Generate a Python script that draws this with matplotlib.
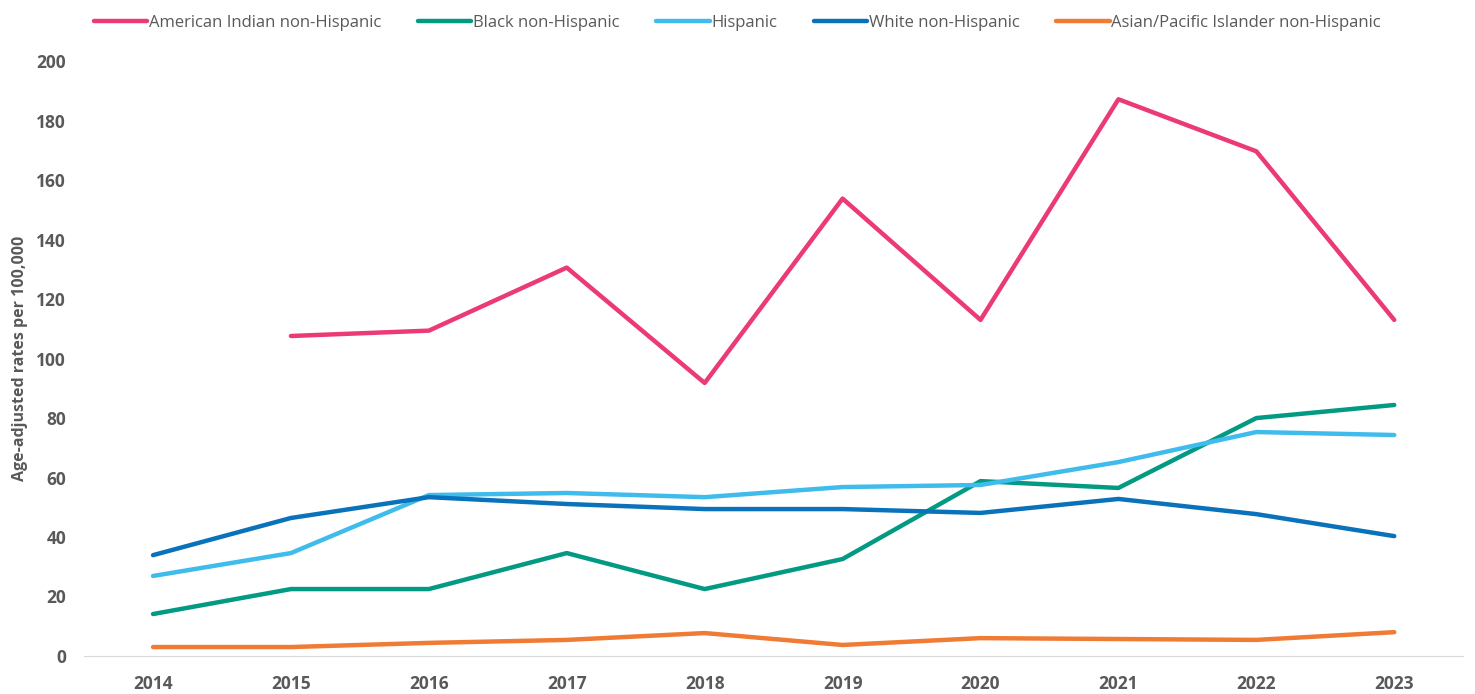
import numpy as np
import matplotlib
matplotlib.use("Agg")
import matplotlib.pyplot as plt

years = ['2014', '2015', '2016', '2017', '2018', '2019', '2020', '2021', '2022', '2023']

american_indian = [np.nan, 107.6, 109.4, 130.6, 91.8, 153.8, 113.0, 187.2, 169.7, 113.0]
black = [14.1, 22.5, 22.5, 34.6, 22.5, 32.6, 58.8, 56.5, 80.0, 84.4]
hispanic = [26.9, 34.6, 54.1, 54.8, 53.4, 56.8, 57.5, 65.2, 75.3, 74.3]
white = [33.9, 46.4, 53.4, 51.1, 49.4, 49.4, 48.1, 52.8, 47.7, 40.3]
asian_pi = [3.0, 3.0, 4.4, 5.4, 7.7, 3.7, 6.0, 5.7, 5.4, 8.0]

series = [
    ('American Indian non-Hispanic', american_indian, '#EB3A75'),
    ('Black non-Hispanic', black, '#039A83'),
    ('Hispanic', hispanic, '#3FBCEC'),
    ('White non-Hispanic', white, '#0A72BA'),
    ('Asian/Pacific Islander non-Hispanic', asian_pi, '#F07B35'),
]

plt.rcParams['font.family'] = ['Open Sans', 'DejaVu Sans']

fig = plt.figure(figsize=(14.75, 6.94), dpi=100)
ax = fig.add_axes([0.057, 0.0548, 0.935, 0.857])

x = np.arange(len(years))
for name, vals, color in series:
    ax.plot(x, vals, color=color, lw=3.2, label=name, solid_capstyle='round')

ax.set_xlim(-0.5, len(years) - 0.5)
ax.set_ylim(0, 200)
ax.set_yticks(range(0, 201, 20))
ax.set_xticks(x)
ax.set_xticklabels(years)
ax.tick_params(length=0, labelsize=12.5, labelcolor='#595959')
ax.tick_params(axis='x', pad=14)
ax.tick_params(axis='y', pad=13)
for lbl in ax.get_xticklabels() + ax.get_yticklabels():
    lbl.set_fontweight('bold')

for s in ['top', 'right', 'left']:
    ax.spines[s].set_visible(False)
ax.spines['bottom'].set_color('#D9D9D9')

ax.set_ylabel('Age-adjusted rates per 100,000', fontsize=11.5, fontweight='bold',
              color='#595959', labelpad=6)

fig.legend(loc='upper center', bbox_to_anchor=(0.50, 1.0), ncol=5, frameon=False,
           fontsize=12, labelcolor='#595959', handlelength=3.2, handletextpad=0.1,
           columnspacing=2.2)

fig.savefig('out.png', dpi=100)
